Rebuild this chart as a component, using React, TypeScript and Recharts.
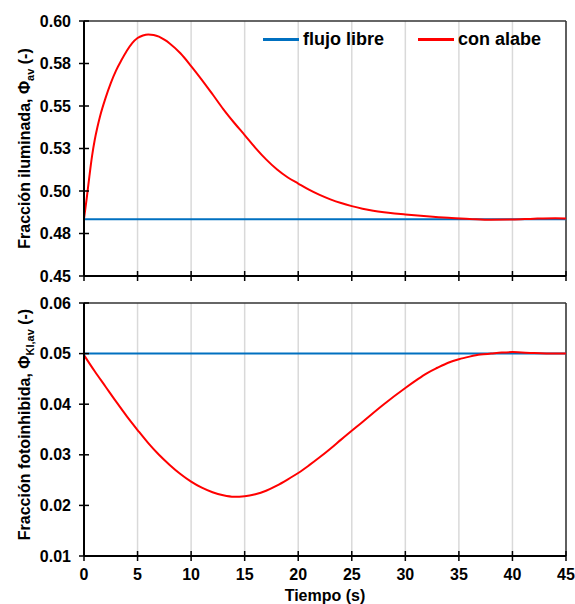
import React from 'react';
import { LineChart, Line, XAxis, YAxis, CartesianGrid, ReferenceLine, Legend } from 'recharts';

const FONT = '"Liberation Sans", Arial, sans-serif';

const timeTicks = [0, 5, 10, 15, 20, 25, 30, 35, 40, 45];
const topYTicks = [0.45, 0.475, 0.5, 0.525, 0.55, 0.575, 0.6];
const topYLabels = ['0.45', '0.48', '0.50', '0.53', '0.55', '0.58', '0.60'];
const bottomYTicks = [0.01, 0.02, 0.03, 0.04, 0.05, 0.06];
const bottomYLabels = ['0.01', '0.02', '0.03', '0.04', '0.05', '0.06'];

const seriesNames = ['flujo libre', 'con alabe'];
const seriesColors = ['#0070C0', '#FF0000'];

const freeTime = [0, 45];
const freeTop = [0.4834, 0.4834];
const freeBottom = [0.05, 0.05];

const redTimeTop = [0, 0.25, 0.5, 0.75, 1, 1.25, 1.5, 2, 2.5, 3, 3.5, 4, 4.5, 5, 5.5, 6, 6.5, 7, 7.5, 8, 9, 10, 11, 12, 13, 14, 15, 16, 17, 18, 19, 20, 21, 22, 23, 24, 25, 26, 27, 28, 29, 30, 32, 34, 36, 38, 40, 42, 44, 45];
const redTop = [0.4836, 0.4955, 0.5085, 0.5205, 0.53, 0.5375, 0.544, 0.5545, 0.5635, 0.571, 0.577, 0.5825, 0.587, 0.59, 0.5915, 0.5921, 0.5918, 0.5908, 0.589, 0.5868, 0.581, 0.5735, 0.5654, 0.5569, 0.5482, 0.5403, 0.5329, 0.5254, 0.5186, 0.5128, 0.5081, 0.5044, 0.5008, 0.4977, 0.4951, 0.4929, 0.4911, 0.4896, 0.4884, 0.4875, 0.4868, 0.4862, 0.4851, 0.4842, 0.4836, 0.4831, 0.4832, 0.4837, 0.484, 0.4838];

const redTimeBottom = [0, 1, 2, 3, 4, 5, 6, 7, 8, 9, 10, 11, 12, 13, 14, 15, 16, 17, 18, 19, 20, 21, 22, 23, 24, 26, 28, 30, 31, 32, 33, 34, 35, 36, 37, 38, 39, 40, 42, 44, 45];
const redBottom = [0.0497, 0.0465, 0.0435, 0.0405, 0.0376, 0.0349, 0.0323, 0.03, 0.028, 0.0262, 0.0247, 0.0235, 0.0226, 0.022, 0.0217, 0.0218, 0.0222, 0.0229, 0.0239, 0.0251, 0.0264, 0.0279, 0.0295, 0.0312, 0.033, 0.0365, 0.04, 0.0432, 0.0447, 0.0461, 0.0472, 0.0482, 0.0489, 0.0494, 0.0498, 0.05, 0.0502, 0.0503, 0.0501, 0.05, 0.05];

const toRows = (xs: number[], ys: number[]) => xs.map((t, i) => ({ t, v: ys[i] }));

const freeTopData = toRows(freeTime, freeTop);
const freeBottomData = toRows(freeTime, freeBottom);
const redTopData = toRows(redTimeTop, redTop);
const redBottomData = toRows(redTimeBottom, redBottom);

const TICK_SIZE = 5;
const TICK_MARGIN = 8;

const makeLeftTick = (ticks: number[], labels: string[]) => (props: any) => {
  const { x, y, payload } = props;
  const idx = ticks.findIndex((v) => Math.abs(v - payload.value) < 1e-9);
  const ax = x + TICK_SIZE + TICK_MARGIN;
  return (
    <g>
      <line x1={ax} x2={ax + 5} y1={y} y2={y} stroke="#000" strokeWidth={1.5} />
      <text x={x} y={y} dy="0.355em" textAnchor="end" fontFamily={FONT} fontWeight="bold" fontSize={16} fill="#000">
        {idx >= 0 ? labels[idx] : ''}
      </text>
    </g>
  );
};

const makeBottomTick = (showLabel: boolean) => (props: any) => {
  const { x, y, payload } = props;
  const ay = y - TICK_SIZE - TICK_MARGIN;
  return (
    <g>
      <line x1={x} x2={x} y1={ay} y2={ay - 5} stroke="#000" strokeWidth={1.5} />
      {showLabel ? (
        <text x={x} y={y} dy="0.71em" textAnchor="middle" fontFamily={FONT} fontWeight="bold" fontSize={16} fill="#000">
          {payload.value}
        </text>
      ) : null}
    </g>
  );
};

const YLabel = (props: any) => {
  const { viewBox, main, sub, shift } = props;
  const cx = 24;
  const cy = viewBox.y + viewBox.height / 2 + (shift || 0);
  return (
    <text
      x={cx}
      y={cy}
      transform={`rotate(-90, ${cx}, ${cy})`}
      textAnchor="middle"
      dy="0.355em"
      fontFamily={FONT}
      fontWeight="bold"
      fontSize={16}
      fill="#000"
    >
      <tspan>{main}</tspan>
      <tspan dy={4} fontSize={11}>{sub}</tspan>
      <tspan dy={-4}> (-)</tspan>
    </text>
  );
};

const XLabel = (props: any) => {
  const { viewBox } = props;
  return (
    <text
      x={viewBox.x + viewBox.width / 2}
      y={viewBox.y + 39}
      dy="0.355em"
      textAnchor="middle"
      fontFamily={FONT}
      fontWeight="bold"
      fontSize={16}
      fill="#000"
    >
      Tiempo (s)
    </text>
  );
};

const renderLegend = (props: any) => {
  const payload = [...(props.payload || [])].sort(
    (a: any, b: any) => seriesNames.indexOf(a.value) - seriesNames.indexOf(b.value)
  );
  return (
    <div style={{ display: 'flex', alignItems: 'center', fontFamily: FONT, fontWeight: 'bold', fontSize: 18, color: '#000', lineHeight: '21px' }}>
      {payload.map((entry: any, i: number) => (
        <div key={i} style={{ display: 'flex', alignItems: 'center', marginRight: i === 0 ? 34 : 0 }}>
          <span style={{ display: 'inline-block', width: 36, height: 3, background: entry.color, marginRight: 4 }} />
          <span>{entry.value}</span>
        </div>
      ))}
    </div>
  );
};

export default function App() {
  return (
    <div style={{ position: 'absolute', left: 0, top: 0, width: 575, height: 604, background: '#fff' }}>
      <div style={{ position: 'absolute', left: 0, top: 0 }}>
        <LineChart width={575} height={290} margin={{ top: 21, right: 9, left: 0, bottom: 0 }}>
          <CartesianGrid horizontal={false} vertical={true} stroke="#d9d9d9" strokeWidth={1.5} />
          <XAxis
            dataKey="t"
            type="number"
            domain={[0, 45]}
            ticks={timeTicks}
            allowDataOverflow
            height={14}
            tickSize={TICK_SIZE}
            tickMargin={TICK_MARGIN}
            axisLine={{ stroke: '#000', strokeWidth: 2 }}
            tickLine={{ stroke: '#000', strokeWidth: 1.5 }}
            tick={makeBottomTick(false)}
          />
          <YAxis
            type="number"
            domain={[0.45, 0.6]}
            ticks={topYTicks}
            allowDataOverflow
            width={84}
            tickSize={TICK_SIZE}
            tickMargin={TICK_MARGIN}
            axisLine={{ stroke: '#000', strokeWidth: 2 }}
            tickLine={{ stroke: '#000', strokeWidth: 1.5 }}
            tick={makeLeftTick(topYTicks, topYLabels)}
            label={<YLabel main="Fracción iluminada, Φ" sub="av" shift={0} />}
          />
          <ReferenceLine y={0.6} stroke="#333" strokeWidth={1.5} />
          <ReferenceLine x={45} stroke="#333" strokeWidth={1.5} />
          <Line data={freeTopData} dataKey="v" name={seriesNames[0]} stroke={seriesColors[0]} strokeWidth={2} dot={false} isAnimationActive={false} type="linear" />
          <Line data={redTopData} dataKey="v" name={seriesNames[1]} stroke={seriesColors[1]} strokeWidth={2} dot={false} isAnimationActive={false} type="monotone" />
          <Legend
            layout="horizontal"
            verticalAlign="middle"
            align="center"
            content={renderLegend}
            wrapperStyle={{ left: 263, top: 29, width: 300 }}
          />
        </LineChart>
      </div>
      <div style={{ position: 'absolute', left: 0, top: 290 }}>
        <LineChart width={575} height={314} margin={{ top: 13, right: 9, left: 0, bottom: 0 }}>
          <CartesianGrid horizontal={false} vertical={true} stroke="#d9d9d9" strokeWidth={1.5} />
          <XAxis
            dataKey="t"
            type="number"
            domain={[0, 45]}
            ticks={timeTicks}
            allowDataOverflow
            height={48}
            tickSize={TICK_SIZE}
            tickMargin={TICK_MARGIN}
            axisLine={{ stroke: '#000', strokeWidth: 2 }}
            tickLine={{ stroke: '#000', strokeWidth: 1.5 }}
            tick={makeBottomTick(true)}
            label={<XLabel />}
          />
          <YAxis
            type="number"
            domain={[0.01, 0.06]}
            ticks={bottomYTicks}
            allowDataOverflow
            width={84}
            tickSize={TICK_SIZE}
            tickMargin={TICK_MARGIN}
            axisLine={{ stroke: '#000', strokeWidth: 2 }}
            tickLine={{ stroke: '#000', strokeWidth: 1.5 }}
            tick={makeLeftTick(bottomYTicks, bottomYLabels)}
            label={<YLabel main="Fracción fotoinhibida, Φ" sub="KI,av" shift={-5} />}
          />
          <ReferenceLine y={0.06} stroke="#333" strokeWidth={1.5} />
          <ReferenceLine x={45} stroke="#333" strokeWidth={1.5} />
          <Line data={freeBottomData} dataKey="v" name={seriesNames[0]} stroke={seriesColors[0]} strokeWidth={2} dot={false} isAnimationActive={false} type="linear" />
          <Line data={redBottomData} dataKey="v" name={seriesNames[1]} stroke={seriesColors[1]} strokeWidth={2} dot={false} isAnimationActive={false} type="monotone" />
        </LineChart>
      </div>
    </div>
  );
}
